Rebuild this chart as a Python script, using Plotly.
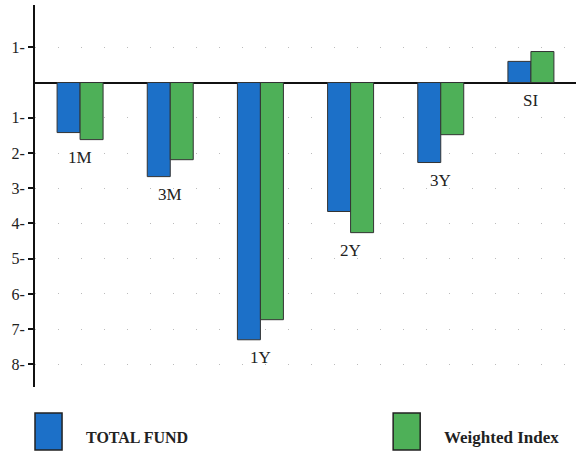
import plotly.graph_objects as go

categories = ["1M", "3M", "1Y", "2Y", "3Y", "SI"]
total_fund = [-1.42, -2.67, -7.30, -3.66, -2.27, 0.60]
weighted_index = [-1.62, -2.19, -6.73, -4.26, -1.48, 0.88]
tick_vals = [1, -1, -2, -3, -4, -5, -6, -7, -8]
tick_text = ["1-", "1-", "2-", "3-", "4-", "5-", "6-", "7-", "8-"]

BLUE = "rgb(28,112,200)"
GREEN = "rgb(78,176,88)"
SERIF = "Liberation Serif"

fig = go.Figure()
fig.add_trace(go.Bar(x=categories, y=total_fund, name="TOTAL FUND",
                     marker=dict(color=BLUE, line=dict(color="#333", width=1))))
fig.add_trace(go.Bar(x=categories, y=weighted_index, name="Weighted Index",
                     marker=dict(color=GREEN, line=dict(color="#333", width=1))))

for c, a, b in zip(categories, total_fund, weighted_index):
    low = min(a, b, 0)
    fig.add_annotation(x=c, y=low, text=c, showarrow=False, yanchor="top",
                       yshift=-6, font=dict(family=SERIF, size=17, color="#222"))

# legend drawn as shapes/text
legend_items = [("TOTAL FUND", BLUE, 0.0, 16), ("Weighted Index", GREEN, 0.662, 17)]
for name, col, x0, fs in legend_items:
    fig.add_shape(type="rect", xref="paper", yref="paper", x0=x0, x1=x0 + 0.05,
                  y0=-0.165, y1=-0.068, fillcolor=col, line=dict(color="#222", width=1.5))
    fig.add_annotation(xref="paper", yref="paper", x=x0 + 0.09, y=-0.131,
                       text="<b>" + name + "</b>", showarrow=False, xanchor="left",
                       yanchor="middle", font=dict(family=SERIF, size=fs, color="#222"))

fig.update_layout(
    width=576, height=456,
    margin=dict(l=35, r=0, t=5, b=69, autoexpand=False),
    paper_bgcolor="white", plot_bgcolor="white",
    barmode="group", bargap=0.49, bargroupgap=0.0,
    showlegend=False,
    xaxis=dict(range=[-0.5, 5.5], showticklabels=False, showgrid=False,
               zeroline=False, showline=False, ticks="", automargin=False),
    yaxis=dict(range=[-8.64, 2.2], tickvals=tick_vals, ticktext=tick_text,
               tickfont=dict(family=SERIF, size=16, color="#222"),
               ticks="outside", ticklen=5, tickwidth=2, tickcolor="#111",
               showline=True, linecolor="#111", linewidth=2, automargin=False,
               zeroline=True, zerolinecolor="#111", zerolinewidth=2,
               showgrid=True, gridcolor="#bbbbbb", gridwidth=1, griddash="1px,22px"),
)

fig.write_html("out.html", config={"displayModeBar": False},
               post_script="document.body.style.margin='0';document.body.style.overflow='hidden';")
